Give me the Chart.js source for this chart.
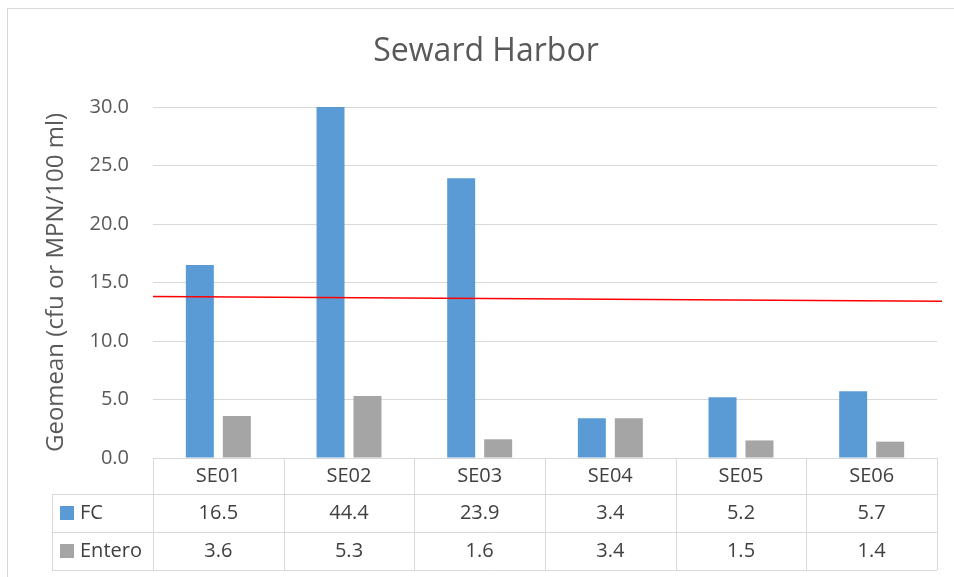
<!DOCTYPE html>
<html lang="en">
<head>
    <meta charset="UTF-8">
    <title>Seward Harbor</title>
    <script src="https://cdn.jsdelivr.net/npm/chart.js"></script>
    <style>
        body { margin: 0; background: #fff; }
        .wrap { width: 954px; height: 577px; position: relative; }
    </style>
</head>
<body>
    <div class="wrap"><canvas id="chart"></canvas></div>

    <script>
        const categories = ['SE01', 'SE02', 'SE03', 'SE04', 'SE05', 'SE06'];
        const fcValues = [16.5, 44.4, 23.9, 3.4, 5.2, 5.7];
        const enteroValues = [3.6, 5.3, 1.6, 3.4, 1.5, 1.4];
        const tableLabels = ['FC', 'Entero'];
        const thresholdLine = [13.8, 13.4];   // hand-drawn red line, left end / right end
        const yTicks = [0, 5, 10, 15, 20, 25, 30];

        const FONT = "'Open Sans', sans-serif";
        const TEXT = '#595959';
        const GRID = '#d9d9d9';
        const colors = ['#5b9bd5', '#a5a5a5'];

        // frame, title, red line and data table under the plot
        const extras = {
            id: 'extras',
            afterDraw(chart) {
                const ctx = chart.ctx;
                const area = chart.chartArea;
                const x = chart.scales.x;
                const y = chart.scales.y;
                ctx.save();

                ctx.strokeStyle = GRID;
                ctx.lineWidth = 1;
                ctx.strokeRect(7.5, 8.5, 1000, 1000);

                ctx.fillStyle = TEXT;
                ctx.font = '32px ' + FONT;
                ctx.textAlign = 'center';
                ctx.textBaseline = 'middle';
                ctx.fillText('Seward Harbor', chart.width / 2 + 9, 52);

                ctx.strokeStyle = '#ff0000';
                ctx.lineWidth = 1.5;
                ctx.beginPath();
                ctx.moveTo(area.left, y.getPixelForValue(thresholdLine[0]));
                ctx.lineTo(area.right + 5, y.getPixelForValue(thresholdLine[1]));
                ctx.stroke();

                // data table
                const colW = (area.right - area.left) / categories.length;
                const rows = [area.bottom, area.bottom + 36, area.bottom + 74, area.bottom + 112];
                const tableLeft = 52;
                ctx.strokeStyle = GRID;
                ctx.lineWidth = 1;
                ctx.beginPath();
                ctx.moveTo(area.left, rows[0] + 0.5);
                ctx.lineTo(area.right, rows[0] + 0.5);
                for (let r = 1; r < rows.length; r++) {
                    ctx.moveTo(tableLeft, rows[r] + 0.5);
                    ctx.lineTo(area.right, rows[r] + 0.5);
                }
                ctx.moveTo(tableLeft + 0.5, rows[1]);
                ctx.lineTo(tableLeft + 0.5, rows[3]);
                for (let i = 0; i <= categories.length; i++) {
                    const cx = Math.round(area.left + i * colW) + 0.5;
                    ctx.moveTo(cx, rows[0]);
                    ctx.lineTo(cx, rows[3]);
                }
                ctx.stroke();

                ctx.font = '20px ' + FONT;
                ctx.fillStyle = '#404040';
                ctx.textAlign = 'center';
                const series = [fcValues, enteroValues];
                categories.forEach((c, i) => {
                    const cx = x.getPixelForValue(i);
                    ctx.fillText(c, cx, (rows[0] + rows[1]) / 2);
                    series.forEach((s, k) => {
                        ctx.fillText(s[i].toFixed(1), cx, (rows[k + 1] + rows[k + 2]) / 2);
                    });
                });
                ctx.textAlign = 'left';
                tableLabels.forEach((lab, k) => {
                    const cy = (rows[k + 1] + rows[k + 2]) / 2;
                    ctx.fillStyle = colors[k];
                    ctx.fillRect(60, cy - 7, 14, 14);
                    ctx.fillStyle = '#404040';
                    ctx.fillText(lab, 80, cy);
                });
                ctx.restore();
            }
        };

        new Chart(document.getElementById('chart'), {
            type: 'bar',
            data: {
                labels: categories,
                datasets: [
                    { label: 'FC', data: fcValues, backgroundColor: colors[0] },
                    { label: 'Entero', data: enteroValues, backgroundColor: colors[1] }
                ]
            },
            options: {
                responsive: true,
                maintainAspectRatio: false,
                animation: false,
                layout: { padding: { left: 40, top: 107, right: 17, bottom: 119 } },
                datasets: { bar: { categoryPercentage: 0.566, barPercentage: 0.757 } },
                plugins: { legend: { display: false }, tooltip: { enabled: false } },
                scales: {
                    x: { display: false },
                    y: {
                        min: 0,
                        max: 30,
                        afterBuildTicks: s => { s.ticks = yTicks.map(v => ({ value: v })); },
                        afterFit: s => { s.width = 113; },
                        border: { display: false },
                        grid: { color: GRID, lineWidth: 1, drawTicks: false },
                        ticks: {
                            padding: 24,
                            color: TEXT,
                            font: { family: FONT, size: 20 },
                            callback: v => v.toFixed(1)
                        },
                        title: {
                            display: true,
                            text: 'Geomean (cfu or MPN/100 ml)',
                            color: TEXT,
                            font: { family: FONT, size: 24 },
                            padding: { top: 2, bottom: 2 }
                        }
                    }
                }
            },
            plugins: [extras]
        });
    </script>
</body>
</html>
